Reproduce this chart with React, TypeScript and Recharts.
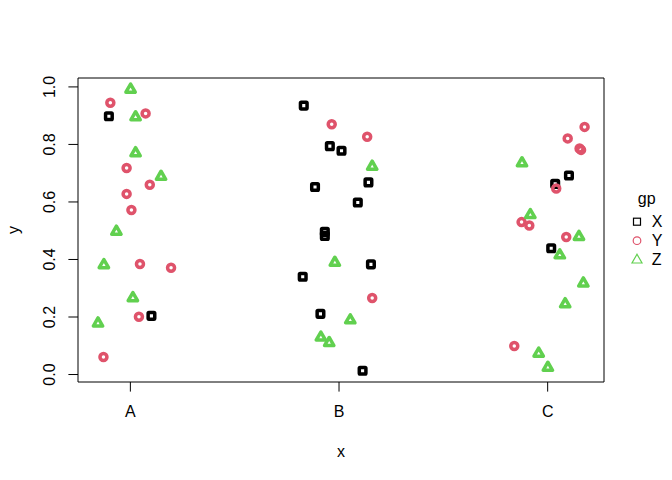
import React from 'react';
import {
  ScatterChart,
  Scatter,
  XAxis,
  YAxis,
  ReferenceArea,
  Legend,
} from 'recharts';

// x = jittered category position (A=1, B=2, C=3), y = value
const CATEGORIES = ['A', 'B', 'C'];
const GROUPS = ['X', 'Y', 'Z'];
const Y_TICKS = [0, 0.2, 0.4, 0.6, 0.8, 1.0];

const POINTS_X: [number, number][] = [
  [0.897, 0.898], [1.101, 0.204],
  [1.831, 0.935], [1.956, 0.794], [2.012, 0.778], [2.141, 0.668], [1.885, 0.652],
  [2.090, 0.598], [1.932, 0.496], [1.932, 0.482], [2.153, 0.383], [1.826, 0.340],
  [1.911, 0.211], [2.113, 0.013],
  [3.102, 0.692], [3.036, 0.663], [3.017, 0.439],
];

const POINTS_Y: [number, number][] = [
  [0.904, 0.945], [1.073, 0.908], [0.982, 0.718], [1.093, 0.660], [0.982, 0.628],
  [1.005, 0.572], [1.046, 0.384], [1.195, 0.371], [1.041, 0.201], [0.871, 0.061],
  [1.965, 0.870], [2.135, 0.827], [2.159, 0.266],
  [3.177, 0.861], [3.096, 0.821], [3.153, 0.786], [3.160, 0.781], [3.041, 0.647],
  [2.875, 0.530], [2.912, 0.518], [3.089, 0.478], [2.840, 0.099],
];

const POINTS_Z: [number, number][] = [
  [1.001, 0.991], [1.025, 0.895], [1.025, 0.770], [1.147, 0.688], [0.933, 0.497],
  [0.873, 0.381], [1.012, 0.266], [0.845, 0.178],
  [2.159, 0.723], [1.980, 0.389], [2.054, 0.189], [1.913, 0.129], [1.953, 0.110],
  [2.877, 0.735], [2.917, 0.555], [3.150, 0.479], [3.058, 0.415], [3.171, 0.317],
  [3.084, 0.245], [2.957, 0.073], [3.001, 0.024],
];

const X_DOMAIN: [number, number] = [0.749, 3.27];
const Y_DOMAIN: [number, number] = [-0.026, 1.031];

const COL_X = '#000000';
const COL_Y = '#DF536B';
const COL_Z = '#61D04F';
const FONT = '"Liberation Sans", Arial, Helvetica, sans-serif';

const toRows = (pts: [number, number][]) => pts.map(([x, y]) => ({ x, y }));

const SquareMark = (p: any) => (
  <rect x={p.cx - 3.3} y={p.cy - 3.3} width={6.6} height={6.6} rx={0.8}
    fill="none" stroke={COL_X} strokeWidth={3.5} />
);

const CircleMark = (p: any) => (
  <circle cx={p.cx} cy={p.cy} r={3.5} fill="none" stroke={COL_Y} strokeWidth={3.5} />
);

const TriangleMark = (p: any) => {
  const r = 5.4;
  const pts = `${p.cx},${p.cy - r} ${p.cx + r * 0.866},${p.cy + r / 2} ${p.cx - r * 0.866},${p.cy + r / 2}`;
  return <polygon points={pts} fill="none" stroke={COL_Z} strokeWidth={3.5} strokeLinejoin="round" />;
};

const XTick = (p: any) => (
  <text x={p.x} y={p.y + 18} textAnchor="middle" dominantBaseline="central"
    fontSize={16} fontFamily={FONT} fill="#000">
    {CATEGORIES[Math.round(p.payload.value) - 1]}
  </text>
);

const YTick = (p: any) => {
  const x = p.x - 17;
  return (
    <text x={x} y={p.y} transform={`rotate(-90 ${x} ${p.y})`} textAnchor="middle"
      dominantBaseline="central" fontSize={16} fontFamily={FONT} fill="#000">
      {p.payload.value.toFixed(1)}
    </text>
  );
};

function LegendBox() {
  const syms = [
    <rect key="s" x={21.5} y={38.2} width={7} height={7} fill="none" stroke={COL_X} strokeWidth={1.2} />,
    <circle key="c" cx={25} cy={60.7} r={3.8} fill="none" stroke={COL_Y} strokeWidth={1.2} />,
    <polygon key="t" points="25,74.3 30,83 20,83" fill="none" stroke={COL_Z} strokeWidth={1.2} />,
  ];
  return (
    <svg width={60} height={100} style={{ display: 'block' }}>
      <text x={34.7} y={18} textAnchor="middle" dominantBaseline="central"
        fontSize={16} fontFamily={FONT}>gp</text>
      {GROUPS.map((g, i) => (
        <g key={g}>
          {syms[i]}
          <text x={39.7} y={41.7 + i * 18.8} dominantBaseline="central"
            fontSize={16} fontFamily={FONT}>{g}</text>
        </g>
      ))}
    </svg>
  );
}

export default function App() {
  return (
    <div style={{ position: 'absolute', left: 0, top: 0, background: '#fff' }}>
      <ScatterChart width={672} height={480} margin={{ top: 78, right: 68, bottom: 0, left: 0 }}>
        <XAxis type="number" dataKey="x" domain={X_DOMAIN} allowDataOverflow
          ticks={[1, 2, 3]} height={98} axisLine={false} tickSize={9.6}
          tickLine={{ stroke: '#000' }} tick={<XTick />} interval={0} />
        <YAxis type="number" dataKey="y" domain={Y_DOMAIN} allowDataOverflow
          ticks={Y_TICKS} width={78} axisLine={false} tickSize={9.6}
          tickLine={{ stroke: '#000' }} tick={<YTick />} interval={0} />
        <ReferenceArea x1={X_DOMAIN[0]} x2={X_DOMAIN[1]} y1={Y_DOMAIN[0]} y2={Y_DOMAIN[1]}
          fill="none" fillOpacity={0} stroke="#000" strokeOpacity={1} ifOverflow="visible" />
        <Scatter name="X" data={toRows(POINTS_X)} shape={SquareMark} isAnimationActive={false} />
        <Scatter name="Y" data={toRows(POINTS_Y)} shape={CircleMark} isAnimationActive={false} />
        <Scatter name="Z" data={toRows(POINTS_Z)} shape={TriangleMark} isAnimationActive={false} />
        <Legend layout="vertical" align="center" verticalAlign="middle"
          wrapperStyle={{ left: 612, top: 180, width: 60, height: 100 }}
          content={() => <LegendBox />} />
        <text x={341} y={451} textAnchor="middle" dominantBaseline="central"
          fontSize={16} fontFamily={FONT}>x</text>
        <text x={13} y={230} transform="rotate(-90 13 230)" textAnchor="middle"
          dominantBaseline="central" fontSize={16} fontFamily={FONT}>y</text>
      </ScatterChart>
    </div>
  );
}
